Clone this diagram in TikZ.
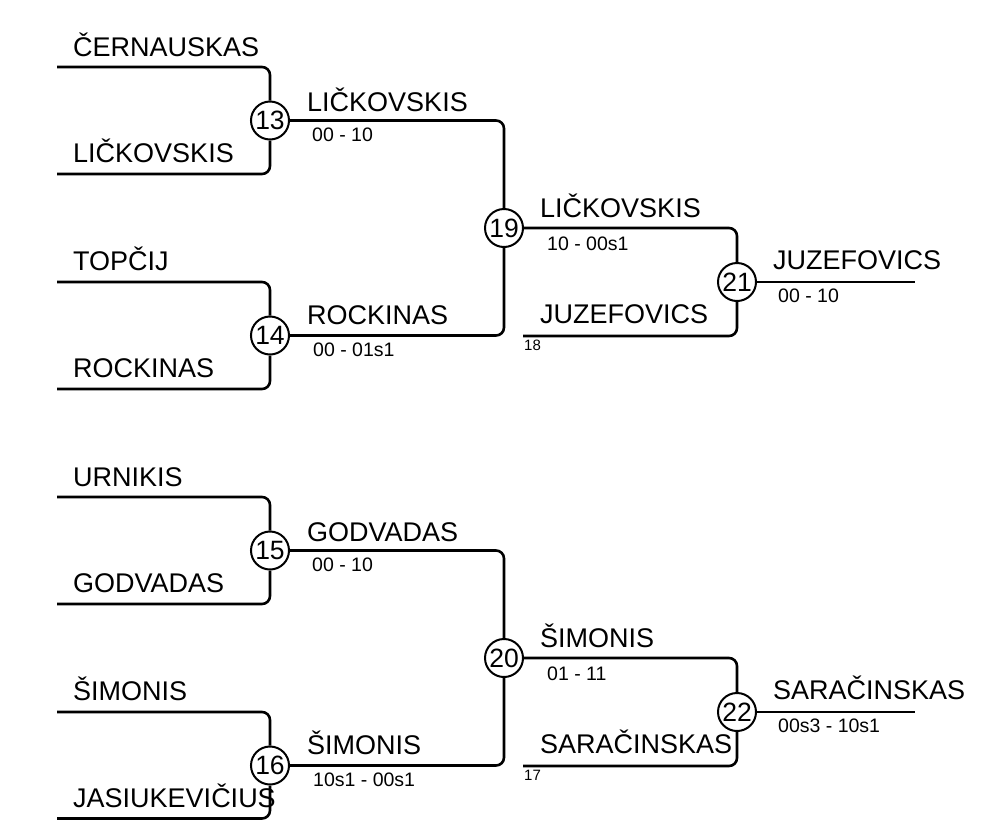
\documentclass[tikz,border=0pt]{standalone}
\usepackage{fontspec}
\setmainfont{Liberation Sans}
\begin{document}
\begin{tikzpicture}[x=1pt,y=-1pt,
    bar/.style={line width=2.6pt,rounded corners=8pt},
    match/.style={circle,draw,line width=2pt,fill=white,minimum size=38pt,inner sep=0pt,font=\fontsize{26.5}{28}\selectfont},
    player/.style={anchor=base west,inner sep=0pt,font=\fontsize{27}{30}\selectfont},
    score/.style={anchor=base west,inner sep=0pt,font=\fontsize{19.5}{21}\selectfont},
    seed/.style={anchor=base west,inner sep=0pt,font=\fontsize{15}{16}\selectfont}]
      \useasboundingbox (0,0) rectangle (994,820);
      % upper half
      \node[match] (m13) at (270,120.5) {13};
      \node[match] (m14) at (270,335.5) {14};
      \node[match] (m19) at (504,228) {19};
      \node[match] (m21) at (737,282) {21};
      \coordinate (e1) at (57,67);
      \coordinate (e2) at (57,174);
      \coordinate (e3) at (57,282);
      \coordinate (e4) at (57,389);
      \coordinate (e18) at (523,336);
      \coordinate (w21) at (915,282);
      \draw[bar] (e1) -| (m13);
      \draw[bar] (e2) -| (m13);
      \draw[bar] (e3) -| (m14);
      \draw[bar] (e4) -| (m14);
      \draw[bar] (m13.east) -| (m19);
      \draw[bar] (m14.east) -| (m19);
      \draw[bar] (m19.east) -| (m21);
      \draw[bar] (e18) -| (m21);
      \draw[bar] (m21.east) -- (w21);
      \node[player] (p1) at (73,56) {ČERNAUSKAS};
      \node[player] (p2) at (73,162) {LIČKOVSKIS};
      \node[player] (p3) at (73,270) {TOPČIJ};
      \node[player] (p4) at (73,377) {ROCKINAS};
      \node[player] (w13) at (307,111) {LIČKOVSKIS};
      \node[score] (s13) at (312,141) {00 - 10};
      \node[player] (w14) at (307,324) {ROCKINAS};
      \node[score] (s14) at (313,356) {00 - 01s1};
      \node[player] (w19) at (540,217) {LIČKOVSKIS};
      \node[score] (s19) at (547,250) {10 - 00s1};
      \node[player] (p18) at (540,323) {JUZEFOVICS};
      \node[seed] (n18) at (524,350) {18};
      \node[player] (w21t) at (773,269) {JUZEFOVICS};
      \node[score] (s21) at (778,302) {00 - 10};
      % lower half
      \node[match] (m15) at (270,550.5) {15};
      \node[match] (m16) at (270,765.5) {16};
      \node[match] (m20) at (504,658) {20};
      \node[match] (m22) at (737,712) {22};
      \coordinate (e5) at (57,497);
      \coordinate (e6) at (57,604);
      \coordinate (e7) at (57,712);
      \coordinate (e8) at (57,818.5);
      \coordinate (e17) at (523,766);
      \coordinate (w22) at (915,712);
      \draw[bar] (e5) -| (m15);
      \draw[bar] (e6) -| (m15);
      \draw[bar] (e7) -| (m16);
      \draw[bar] (e8) -| (m16);
      \draw[bar] (m15.east) -| (m20);
      \draw[bar] (m16.east) -| (m20);
      \draw[bar] (m20.east) -| (m22);
      \draw[bar] (e17) -| (m22);
      \draw[bar] (m22.east) -- (w22);
      \node[player] (p5) at (73,486) {URNIKIS};
      \node[player] (p6) at (73,592) {GODVADAS};
      \node[player] (p7) at (73,700) {ŠIMONIS};
      \node[player] (p8) at (73,807) {JASIUKEVIČIUS};
      \node[player] (w15) at (307,541) {GODVADAS};
      \node[score] (s15) at (312,571) {00 - 10};
      \node[player] (w16) at (307,754) {ŠIMONIS};
      \node[score] (s16) at (313,786) {10s1 - 00s1};
      \node[player] (w20) at (540,647) {ŠIMONIS};
      \node[score] (s20) at (547,680) {01 - 11};
      \node[player] (p17) at (540,753) {SARAČINSKAS};
      \node[seed] (n17) at (524,780) {17};
      \node[player] (w22t) at (773,699) {SARAČINSKAS};
      \node[score] (s22) at (778,732) {00s3 - 10s1};
\end{tikzpicture}
\end{document}
